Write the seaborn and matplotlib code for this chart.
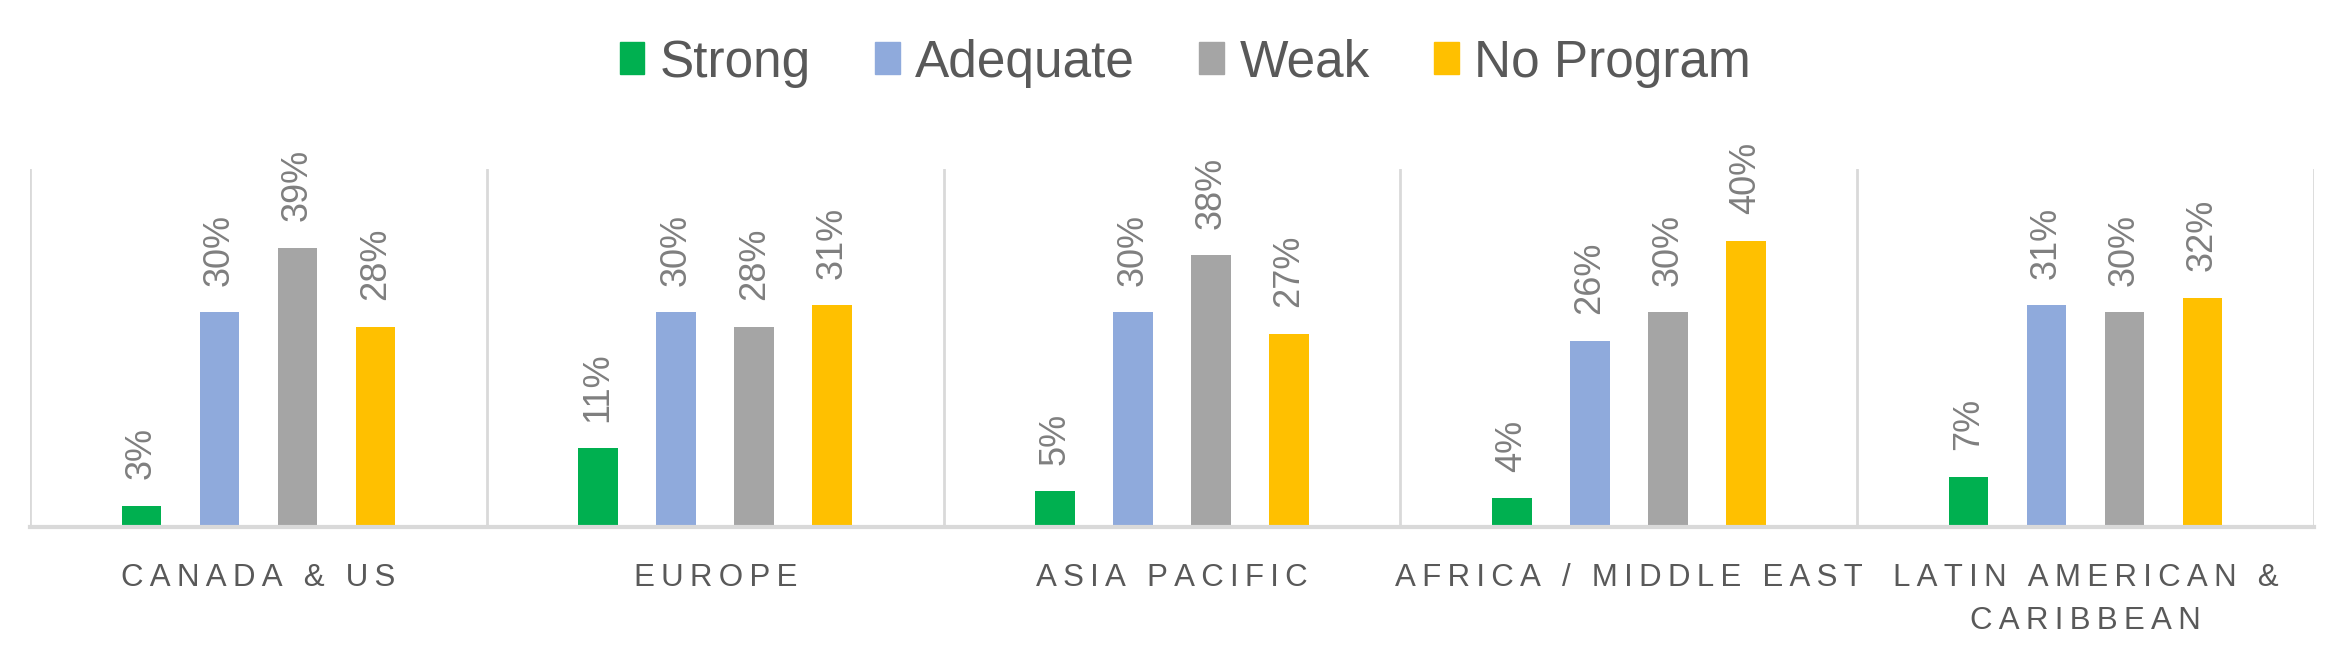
import matplotlib
matplotlib.use("Agg")
import matplotlib.pyplot as plt
import seaborn as sns
import pandas as pd

# ---- data ----
regions = ["CANADA & US", "EUROPE", "ASIA PACIFIC", "AFRICA / MIDDLE EAST",
           "LATIN AMERICAN &\nCARIBBEAN"]
levels = ["Strong", "Adequate", "Weak", "No Program"]
strong = [3, 11, 5, 4, 7]
adequate = [30, 30, 30, 26, 31]
weak = [39, 28, 38, 30, 30]
no_program = [28, 31, 27, 40, 32]
colors = ["#00B050", "#8FAADC", "#A5A5A5", "#FFC000"]

series = [strong, adequate, weak, no_program]
rows = []
for lvl, vals in zip(levels, series):
    for r, v in zip(regions, vals):
        rows.append({"region": r, "level": lvl, "value": v})
df = pd.DataFrame(rows)

sns.set_theme(style="white")
FONT = ["Liberation Sans", "DejaVu Sans"]
plt.rcParams["font.family"] = FONT

fig = plt.figure(figsize=(23.47, 6.5), dpi=100)
ax = fig.add_axes([30 / 2347, 1 - 527 / 650, (2314 - 30) / 2347, (527 - 169) / 650])

sns.barplot(data=df, x="region", y="value", hue="level", order=regions,
            hue_order=levels, palette=colors, width=0.683, gap=0.49,
            saturation=1, linewidth=0, ax=ax, legend=False)

ax.set_ylim(0, 50)
ax.set_xlim(-0.5, len(regions) - 0.5)

for cont, vals in zip(ax.containers, series):
    ax.bar_label(cont, labels=[f"{v}%" for v in vals], padding=19, rotation=90,
                 color="#7F7F7F", fontsize=26)

# separators
for xv in [i - 0.5 for i in range(len(regions) + 1)]:
    ax.axvline(xv, color="#D9D9D9", lw=2, zorder=0)

for s in ["top", "left", "right"]:
    ax.spines[s].set_visible(False)
ax.spines["bottom"].set_color("#D9D9D9")
ax.spines["bottom"].set_linewidth(3)

def spaced(label):
    return "\n".join("\u2009".join(line) for line in label.split("\n"))

ax.set_xticks(range(len(regions)))
ax.set_xticklabels([spaced(r) for r in regions], fontsize=22.5, color="#595959",
                   linespacing=1.55)
ax.tick_params(axis="x", length=0, pad=26)
ax.set_yticks([])
ax.set_xlabel("")
ax.set_ylabel("")

handles = [plt.Rectangle((0, 0), 1, 1, color=c) for c in colors]
leg = fig.legend(handles, levels, loc="center", bbox_to_anchor=(0.505, 1 - 63 / 650),
                 ncol=4, frameon=False, fontsize=37, handlelength=0.48,
                 handleheight=0.58, handletextpad=0.3, columnspacing=1.25)
for t in leg.get_texts():
    t.set_color("#595959")

fig.savefig("out.png", dpi=100)
